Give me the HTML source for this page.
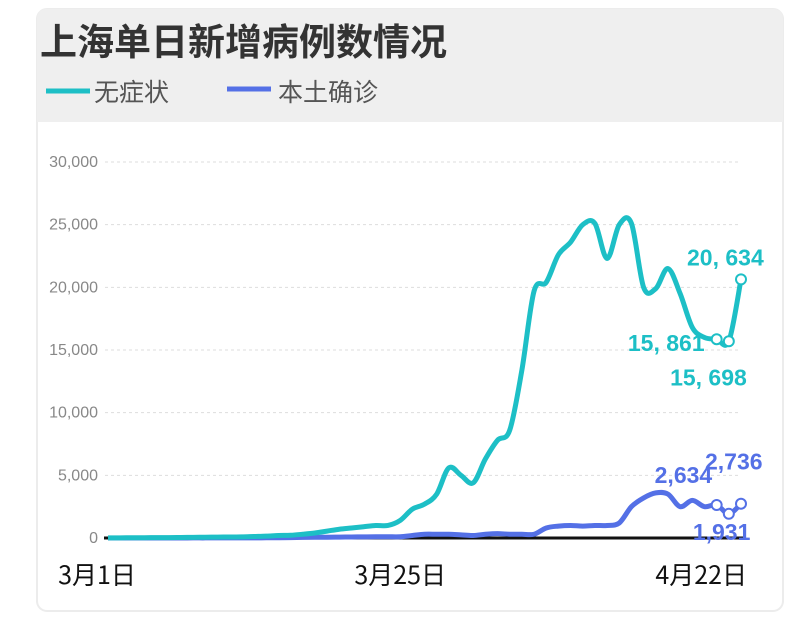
<!DOCTYPE html>
<html><head><meta charset="utf-8"><style>
body{margin:0;background:#fff;width:800px;height:631px;overflow:hidden;font-family:"Liberation Sans","Noto Sans CJK SC",sans-serif}
</style></head><body>
<svg width="800" height="631" xmlns="http://www.w3.org/2000/svg" id="svg">
<rect x="37" y="9" width="746" height="602" rx="10" fill="#fff" stroke="#ececec" stroke-width="2"/>
<path d="M47 9 H773 Q783 9 783 19 V122 H37 V19 Q37 9 47 9Z" fill="#efefef"/>
<text x="40" y="55" font-size="37" font-weight="bold" fill="#333" font-family="Noto Sans CJK SC, sans-serif">上海单日新增病例数情况</text>
<g><line x1="46" y1="91" x2="90" y2="91" stroke="#1dbfc6" stroke-width="5"/><text x="94" y="101" font-size="25" fill="#555" font-family="Noto Sans CJK SC, sans-serif">无症状</text></g>
<g><line x1="227" y1="89" x2="271" y2="89" stroke="#5470e6" stroke-width="5"/><text x="278" y="101" font-size="25" fill="#555" font-family="Noto Sans CJK SC, sans-serif">本土确诊</text></g>
<g id="plot"></g>
</svg>
<script>
const days=53;
const yTicks=[0,5000,10000,15000,20000,25000,30000];
const yTickLabels=["0","5,000","10,000","15,000","20,000","25,000","30,000"];
const xTickIdx=[0,24,52];
const xTickLabels=["3月1日","3月25日","4月22日"];
const asymptomatic=[10,10,20,20,30,30,40,50,60,70,80,90,120,150,200,220,300,400,550,700,800,900,1000,1000,1400,2300,2700,3500,5600,5000,4400,6300,7800,8600,13400,19700,20400,22600,23600,25000,25100,22300,25000,25100,20000,19900,21500,19500,16800,16000,15861,15698,20634];
const confirmed=[0,0,0,0,0,0,0,5,5,10,10,10,10,15,20,30,50,60,60,70,80,90,100,100,100,200,300,300,300,250,200,300,350,300,300,300,800,950,1000,950,1000,1000,1200,2500,3200,3600,3500,2500,3000,2500,2634,1931,2736];
const annA=[[50,"15, 861",-12,12,"end"],[51,"15, 698",18,44,"end"],[52,"20, 634",-54,-14,"start"]];
const annC=[[50,"2,634",-62,-22,"start"],[51,"1,931",-36,26,"start"],[52,"2,736",-36,-34,"start"]];
const X=i=>108+i*(741-108)/(days-1);
const Y=v=>538-v*(538-162)/30000;
const ns="http://www.w3.org/2000/svg",g=document.getElementById('plot');
function mk(t,a){const e=document.createElementNS(ns,t);for(const k in a)e.setAttribute(k,a[k]);g.appendChild(e);return e;}
yTicks.forEach((v,k)=>{
 if(v>0){const l=mk('line',{x1:105,x2:740,y1:Y(v),y2:Y(v),stroke:'#ddd','stroke-dasharray':'3 3'});
 
 }
 const t=mk('text',{x:98,y:Y(v)+5,'font-size':16,fill:'#888','text-anchor':'end'});t.textContent=yTickLabels[k];
 
 
});
const ax=mk('line',{x1:104,x2:744,y1:538,y2:538,stroke:'#111','stroke-width':3});


xTickIdx.forEach((d,k)=>{
 const anc=k==2?'end':'middle';const t=mk('text',{x:k==2?X(d)+6:X(d)-(k==0?11:0),y:584,'font-size':25,fill:'#111','text-anchor':anc,'font-family':'Noto Sans CJK SC, sans-serif'});t.textContent=xTickLabels[k];
 
 
});
function path(arr){const p=arr.map((v,i)=>[X(i),Y(v)]);let d=`M${p[0][0]},${p[0][1]}`;
 for(let i=0;i<p.length-1;i++){const p0=p[i-1]||p[i],p1=p[i],p2=p[i+1],p3=p[i+2]||p2;
 d+=` C${p1[0]+(p2[0]-p0[0])/6},${p1[1]+(p2[1]-p0[1])/6} ${p2[0]-(p3[0]-p1[0])/6},${p2[1]-(p3[1]-p1[1])/6} ${p2[0]},${p2[1]}`;}return d;}
function series(arr,col,name,ann){
 const l=mk('path',{d:path(arr),fill:'none',stroke:col,'stroke-width':5,'stroke-linejoin':'round'});
 
 
 ann.forEach(a=>{const i=a[0];
  const c=mk('circle',{cx:X(i),cy:Y(arr[i]),r:5,fill:'#fff',stroke:col,'stroke-width':2});
  
  
  const t=mk('text',{x:X(i)+a[2],y:Y(arr[i])+a[3],'font-size':23,'font-weight':'bold',fill:col,'text-anchor':a[4]});t.textContent=a[1];
  
  
 });
}
series(confirmed,'#5470e6','confirmed',annC);
series(asymptomatic,'#1dbfc6','asymptomatic',annA);
</script>
</body></html>
